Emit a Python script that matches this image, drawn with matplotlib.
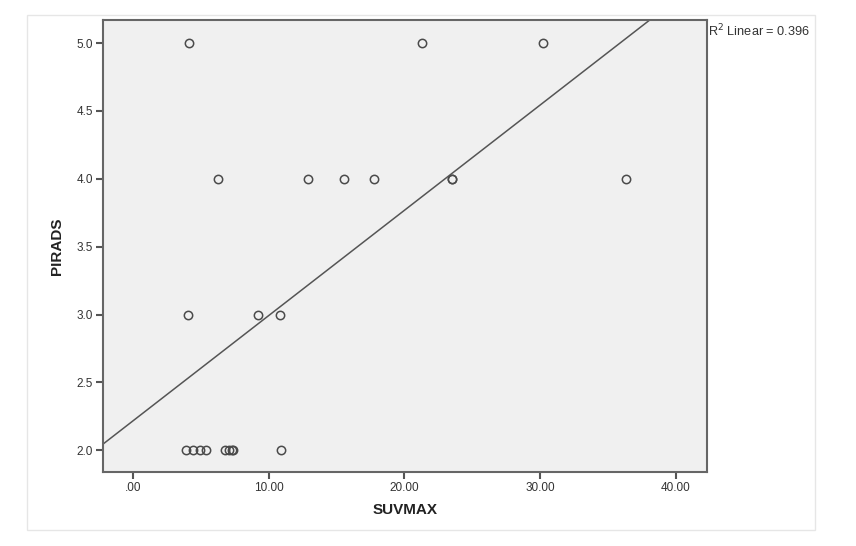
import numpy as np
import matplotlib
matplotlib.use("Agg")
import matplotlib.pyplot as plt
from matplotlib.patches import Rectangle
from matplotlib.ticker import FuncFormatter

plt.rcParams['font.family'] = ['Liberation Sans', 'DejaVu Sans']

suvmax = [3.95, 4.43, 4.93, 5.42, 6.8, 7.1, 7.3, 7.4, 10.9,
          4.09, 9.24, 10.83,
          6.29, 12.91, 15.54, 17.74, 23.5, 23.5, 36.32,
          4.14, 21.32, 30.24]
pirads = [2, 2, 2, 2, 2, 2, 2, 2, 2,
          3, 3, 3,
          4, 4, 4, 4, 4, 4, 4,
          5, 5, 5]
r2_label = "R$^2$ Linear = 0.396"
x_ticks = [0, 10, 20, 30, 40]
y_ticks = [2.0, 2.5, 3.0, 3.5, 4.0, 4.5, 5.0]

x = np.array(suvmax)
y = np.array(pirads, dtype=float)
slope, intercept = np.polyfit(x, y, 1)

fig = plt.figure(figsize=(8.56, 5.46), dpi=100)
fig.patches.append(Rectangle((27/856, 1-530/546), (815-27)/856, (530-15)/546,
                             transform=fig.transFigure, fill=False,
                             edgecolor='#e6e6e6', linewidth=1.0))
ax = fig.add_axes([103/856, 1-472/546, (707-103)/856, (472-20)/546])
ax.set_facecolor('#f0f0f0')

xlim = (-2.2, 42.3)
ylim = (1.84, 5.17)
ax.set_xlim(*xlim)
ax.set_ylim(*ylim)

xx = np.array(xlim)
ax.plot(xx, intercept + slope * xx, color='#555555', lw=1.1, zorder=2)
ax.plot(x, y, linestyle='none', marker='o', markersize=6, markerfacecolor='none',
        markeredgecolor='#4a4a4a', markeredgewidth=1.1, zorder=3)

for s in ax.spines.values():
    s.set_color('#666666')
    s.set_linewidth(1.5)

ax.set_xticks(x_ticks)
ax.set_yticks(y_ticks)
ax.xaxis.set_major_formatter(FuncFormatter(lambda v, p: ('%.2f' % v).lstrip('0') if v == 0 else '%.2f' % v))
ax.yaxis.set_major_formatter(FuncFormatter(lambda v, p: '%.1f' % v))
ax.tick_params(axis='both', direction='out', length=5, width=1.5, color='#555555',
               labelsize=8.5, labelcolor='#333333', pad=2)

ax.set_xlabel('SUVMAX', fontsize=11, fontweight='bold', color='#222222', labelpad=7)
ax.set_ylabel('PIRADS', fontsize=11, fontweight='bold', color='#222222', labelpad=9)

ax.text(1.001, 0.975, r2_label, transform=ax.transAxes, fontsize=9.2,
        color='#333333', ha='left', va='center', clip_on=False)

fig.savefig('out.png', dpi=100)
